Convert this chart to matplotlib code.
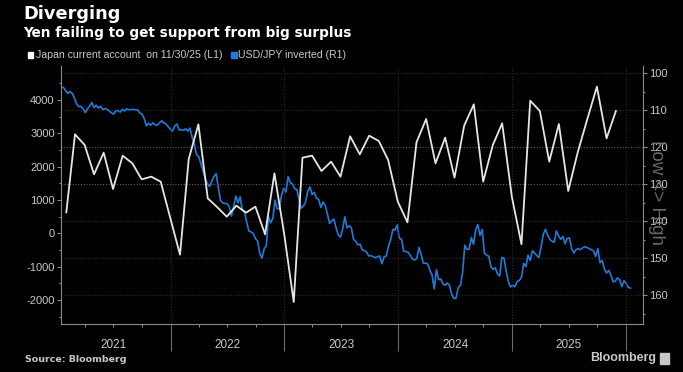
import matplotlib
matplotlib.use("Agg")
import matplotlib.pyplot as plt
import matplotlib.dates as mdates
from matplotlib.patches import Rectangle
import pandas as pd
import numpy as np

# ---------------- data ----------------
# Japan current account (billion yen), monthly, Jan 2021 .. Nov 2025 (month-end)
ca_months = pd.date_range("2021-01-31", "2025-11-30", freq="ME")
ca_values = [
    630, 2970, 2650, 1770, 2420, 1330, 2330, 2100, 1620, 1700, 1550, 450,      # 2021
    -640, 2230, 3270, 1050, 780, 500, 830, 620, 800, -30, 1800, 0,             # 2022
    -2060, 2270, 2330, 1870, 2150, 1700, 2910, 2370, 2930, 2770, 2200, 950,    # 2023
    330, 2730, 3430, 2100, 2870, 1670, 3230, 3870, 1550, 2650, 3300, 1100,     # 2024
    -330, 3980, 3670, 2150, 3280, 1270, 2450, 3450, 4400, 2850, 3670,          # 2025
]

# USD/JPY weekly (Friday) closes, from 8 Jan 2021
jpy_2021 = [103.9, 103.8, 103.8, 104.7, 105.4, 104.9, 105.4, 106.6, 108.3, 109.0, 108.9, 109.6,
            110.6, 109.6, 108.8, 107.9, 109.3, 108.6, 109.4, 108.9, 109.8, 109.5, 109.7, 110.2, 110.7,
            111.0, 110.1, 110.1, 110.5, 109.7, 110.2, 109.6, 109.8, 109.8, 109.7, 109.9, 109.9, 110.7,
            111.0, 112.2, 114.2, 113.5, 114.0, 113.4, 113.9, 114.0, 113.4, 112.8, 113.4, 113.7, 114.4, 115.1]
jpy_2022 = [115.6, 114.2, 113.7, 115.3, 115.2, 115.4, 115.0, 115.6, 114.8, 117.3, 119.2, 122.0,
            122.5, 124.4, 126.4, 128.5, 129.8, 130.6, 129.2, 127.9, 127.1, 130.9, 134.4, 135.0, 135.2,
            135.2, 136.1, 138.6, 136.1, 133.2, 135.0, 133.4, 137.0, 137.6, 140.2, 142.6, 142.9, 143.3, 144.7,
            145.3, 148.7, 150.0, 147.5, 146.6, 138.8, 140.4, 139.2, 134.3, 136.6, 136.7, 132.9, 131.1]
jpy_2023 = [132.1, 127.9, 129.6, 129.9, 131.2, 131.4, 134.2, 136.5, 135.9, 134.8, 131.9, 130.7, 132.8,
            132.2, 133.8, 134.1, 136.3, 134.8, 135.7, 138.0, 140.6, 139.9, 139.4, 141.8, 143.7, 144.3,
            142.1, 138.8, 141.8, 141.2, 141.8, 144.9, 145.4, 146.4, 146.2, 147.8, 147.9, 148.4, 149.4,
            149.3, 149.6, 149.9, 149.6, 149.4, 151.5, 149.6, 149.4, 146.8, 145.0, 142.2, 142.4, 141.0]
jpy_2024 = [144.6, 144.9, 148.1, 148.2, 148.4, 149.3, 150.2, 150.5, 150.1, 147.1, 149.0, 151.4, 151.3,
            151.6, 153.3, 154.6, 158.3, 153.1, 155.8, 155.6, 157.0, 157.3, 156.7, 157.4, 159.8, 160.9,
            160.8, 157.9, 157.4, 153.8, 146.5, 147.6, 147.6, 144.4, 146.2, 142.3, 140.9, 143.9, 142.2,
            148.7, 149.1, 149.5, 152.3, 153.0, 152.6, 154.3, 154.8, 149.8, 150.0, 153.6, 156.4, 157.8]
jpy_2025 = [157.3, 157.7, 156.3, 156.0, 155.2, 151.4, 152.3, 149.2, 150.6, 148.0, 148.6, 149.3, 149.8,
            146.9, 143.5, 142.2, 143.7, 144.9, 145.4, 145.7, 142.6, 144.0, 144.9, 144.1, 146.1, 144.6,
            144.5, 147.4, 148.6, 147.7, 147.4, 147.7, 147.2, 146.9, 147.1, 147.4, 147.7, 148.0, 149.5,
            147.4, 151.2, 150.6, 152.9, 154.0, 153.3, 154.6, 156.4, 156.2, 155.3, 155.8, 157.7, 156.1]
jpy_2026 = [156.8, 157.9, 158.1]
jpy_values = jpy_2021 + jpy_2022 + jpy_2023 + jpy_2024 + jpy_2025 + jpy_2026
jpy_dates = pd.date_range("2021-01-08", periods=len(jpy_values), freq="W-FRI")

years = [2021, 2022, 2023, 2024, 2025]
left_ticks = [-2000, -1000, 0, 1000, 2000, 3000, 4000]
right_ticks = [100, 110, 120, 130, 140, 150, 160]

# ---------------- style ----------------
BG = "#000000"
TXT = "#c8c8c8"
AXC = "#8a8a8a"
WHITE_LINE = "#e6e6e6"
BLUE = "#1f7ad8"
plt.rcParams["font.family"] = ["Liberation Sans", "DejaVu Sans"]
BOLDFAM = ["DejaVu Sans"]

fig = plt.figure(figsize=(6.83, 3.72), dpi=100, facecolor=BG)
ax = fig.add_axes([61 / 683, 1 - 324 / 372, (643 - 61) / 683, (324 - 66) / 372])
ax.set_facecolor(BG)
ax2 = ax.twinx()

# gridlines (right-axis levels, dotted)
for v in right_ticks:
    c = "#5c5c5c" if v in (120, 130) else "#2c2c2c"
    ax2.axhline(v, color=c, lw=0.8, ls=(0, (1, 1.5)), zorder=0)
for y in years[1:] + [2026]:
    ax.axvline(pd.Timestamp(f"{y}-01-01"), color="#2c2c2c", lw=0.8, ls=(0, (1, 1.5)), zorder=0)

ax.plot(ca_months, ca_values, color=WHITE_LINE, lw=1.3, zorder=3)
ax2.plot(jpy_dates, jpy_values, color=BLUE, lw=1.2, zorder=2)
ax.set_zorder(ax2.get_zorder() + 1)
ax.patch.set_visible(False)
ax2.patch.set_visible(True)
ax2.patch.set_facecolor(BG)

ax.set_xlim(pd.Timestamp("2021-01-14"), pd.Timestamp("2026-02-25"))
ax.set_ylim(-2720, 5020)
ax2.set_ylim(167.8, 98.0)

ax.set_yticks(left_ticks)
ax.set_yticklabels([str(v) for v in left_ticks])
ax.set_yticks(np.arange(-2500, 5000, 500), minor=True)
ax2.set_yticks(right_ticks)
ax2.set_yticklabels([str(v) for v in right_ticks])
ax2.set_yticks(np.arange(105, 170, 10), minor=True)

ax.xaxis.set_major_locator(mdates.YearLocator())
ax.xaxis.set_minor_locator(mdates.MonthLocator(bymonth=[4, 7, 10]))
ax.xaxis.set_major_formatter(plt.NullFormatter())
ax.tick_params(axis="x", which="major", length=19.5, width=0.8, color="#6a6a6a", direction="out")
ax.tick_params(axis="x", which="minor", length=2, width=0.8, color=AXC, direction="out")

for a in (ax, ax2):
    for s in a.spines.values():
        s.set_visible(False)
ax.spines["left"].set_visible(True)
ax.spines["bottom"].set_visible(True)
ax2.spines["right"].set_visible(True)
for s in (ax.spines["left"], ax.spines["bottom"], ax2.spines["right"]):
    s.set_color(AXC)
    s.set_linewidth(0.8)

ax.tick_params(axis="y", which="major", length=3, width=0.8, color=AXC, labelcolor=TXT,
               labelsize=8, pad=1.5)
ax.tick_params(axis="y", which="minor", length=1.5, width=0.8, color=AXC)
ax2.tick_params(axis="y", which="major", length=3, width=0.8, color=AXC, labelcolor=TXT,
                labelsize=8, pad=1.5)
ax2.tick_params(axis="y", which="minor", length=1.5, width=0.8, color=AXC)

# year labels centred in each year
trans = matplotlib.transforms.blended_transform_factory(ax.transData, fig.transFigure)
for y in years:
    ax.text(pd.Timestamp(f"{y}-07-02"), 1 - 345 / 372, str(y), transform=trans,
            ha="center", va="center", color=TXT, fontsize=8.5)

# Low <> High (drawn over the right tick labels, as in the original)
fig.text(657 / 683, 1 - 192 / 372, "Low <> High", rotation=-90, ha="center", va="center",
         color="#7a7a7a", fontsize=13.5, alpha=0.85)

# titles
fig.text(23 / 683, 1 - 14 / 372, "Diverging", color="white", fontsize=12.8,
         fontweight="bold", ha="left", va="center", family=BOLDFAM)
fig.text(23 / 683, 1 - 33.5 / 372, "Yen failing to get support from big surplus", color="white",
         fontsize=9.8, fontweight="bold", ha="left", va="center", family=BOLDFAM)

# legend
fig.patches.append(Rectangle((27.5 / 683, 1 - 57.5 / 372), 5.5 / 683, 5.5 / 372,
                             transform=fig.transFigure, color="white"))
fig.text(35.5 / 683, 1 - 55 / 372, "Japan current account  on 11/30/25 (L1)", color=TXT,
         fontsize=7.55, ha="left", va="center")
fig.patches.append(Rectangle((231 / 683, 1 - 57.5 / 372), 5.5 / 683, 5.5 / 372,
                             transform=fig.transFigure, color=BLUE))
fig.text(238 / 683, 1 - 55 / 372, "USD/JPY inverted (R1)", color=TXT,
         fontsize=7.55, ha="left", va="center")

# footer
fig.text(25 / 683, 1 - 360 / 372, "Source: Bloomberg", color=TXT, fontsize=6.8,
         fontweight="bold", ha="left", va="center", family=BOLDFAM)
fig.text(656 / 683, 1 - 358.5 / 372, "Bloomberg", color=TXT, fontsize=9,
         fontweight="bold", ha="right", va="center")
fig.patches.append(Rectangle((660 / 683, 1 - 364 / 372), 9 / 683, 11 / 372,
                             transform=fig.transFigure, color=TXT))

fig.savefig("out.png", dpi=100, facecolor=BG)
